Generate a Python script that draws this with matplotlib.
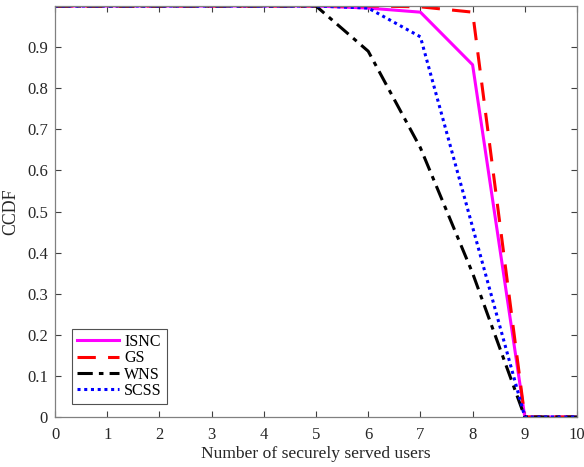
import matplotlib
matplotlib.use("Agg")
import matplotlib.pyplot as plt

x = [0, 1, 2, 3, 4, 5, 6, 7, 8, 9, 10]
isnc = [1, 1, 1, 1, 1, 1, 0.995, 0.985, 0.857, 0, 0]
gs = [1, 1, 1, 1, 1, 1, 1, 0.998, 0.985, 0, 0]
wns = [1, 1, 1, 1, 1, 1, 0.89, 0.655, 0.35, 0, 0]
scss = [1, 1, 1, 1, 1, 1, 0.995, 0.925, 0.462, 0, 0]
labels = ["ISNC", "GS", "WNS", "SCSS"]

plt.rcParams['font.family'] = ['Liberation Serif', 'DejaVu Serif']
fig = plt.figure(figsize=(5.84, 4.67), dpi=100)
ax = fig.add_axes([55/584, 50/467, 522/584, 411/467])

lw = 2.2
ax.plot(x, isnc, color='#ff00ff', lw=lw, ls='-', label=labels[0])
ax.plot(x, gs, color='#ff0000', lw=lw, ls=(0, (6, 4)), label=labels[1])
ax.plot(x, wns, color='black', lw=lw, ls=(0, (5, 2, 1.5, 2)), label=labels[2])
ax.plot(x, scss, color='#0000ff', lw=lw, ls=(0, (1, 1.2)), label=labels[3])

ax.set_xlim(0, 10)
ax.set_ylim(0, 1)
ax.set_xticks(range(11))
ax.set_yticks([0, 0.1, 0.2, 0.3, 0.4, 0.5, 0.6, 0.7, 0.8, 0.9])
ax.set_yticklabels(['0', '0.1', '0.2', '0.3', '0.4', '0.5', '0.6', '0.7', '0.8', '0.9'])
ax.tick_params(direction='in', top=True, right=True, length=4, width=0.8,
               color='#404040', labelsize=12, labelcolor='#262626')
ax.tick_params(axis='x', pad=7)
ax.tick_params(axis='y', pad=5)
for s in ax.spines.values():
    s.set_color('#808080')
    s.set_linewidth(0.9)
ax.set_xlabel('Number of securely served users', fontsize=12.6, color='#262626', labelpad=2.5)
ax.set_ylabel('CCDF', fontsize=12.8, color='#262626', labelpad=6)

leg = ax.legend(loc='lower left', bbox_to_anchor=(0.033, 0.032), borderaxespad=0,
                fontsize=11.5, fancybox=False, handlelength=2.6, handletextpad=0.35,
                labelspacing=0.03, borderpad=0.3)
leg.get_frame().set_edgecolor('#262626')
leg.get_frame().set_linewidth(0.8)

fig.savefig('out.png', dpi=100)
